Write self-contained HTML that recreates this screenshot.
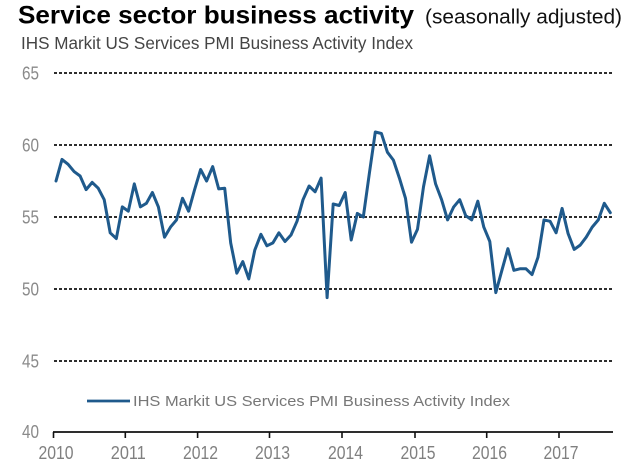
<!DOCTYPE html>
<html>
<head>
<meta charset="utf-8">
<style>
  html, body { margin: 0; padding: 0; background: #ffffff; }
  body { width: 640px; height: 463px; overflow: hidden; }
  svg { display: block; }
  text { font-family: "Liberation Sans", Arial, sans-serif; }
</style>
</head>
<body>
<svg width="640" height="463" viewBox="0 0 640 463" xmlns="http://www.w3.org/2000/svg">
  <rect x="0" y="0" width="640" height="463" fill="#ffffff"/>

  <!-- Title -->
  <text x="18" y="23.5" font-size="25" font-weight="bold" fill="#000" textLength="396" lengthAdjust="spacingAndGlyphs">Service sector business activity</text>
  <text x="425" y="23.5" font-size="20.5" fill="#111" textLength="197" lengthAdjust="spacingAndGlyphs">(seasonally adjusted)</text>

  <!-- Subtitle -->
  <text x="21" y="49" font-size="17.5" fill="#444" textLength="392" lengthAdjust="spacingAndGlyphs">IHS  Markit US Services PMI Business Activity Index</text>

  <!-- Gridlines -->
  <g stroke="#111" stroke-width="1.7" stroke-dasharray="3,2" fill="none">
    <line x1="54" y1="73" x2="614" y2="73"/>
    <line x1="54" y1="145" x2="614" y2="145"/>
    <line x1="54" y1="217" x2="614" y2="217"/>
    <line x1="54" y1="289" x2="614" y2="289"/>
    <line x1="54" y1="361" x2="614" y2="361"/>
  </g>

  <!-- Y axis labels -->
  <g font-size="18" fill="#8a8a8a" text-anchor="end">
    <text x="39" y="79.5" textLength="17" lengthAdjust="spacingAndGlyphs">65</text>
    <text x="39" y="151.5" textLength="17" lengthAdjust="spacingAndGlyphs">60</text>
    <text x="39" y="223.5" textLength="17" lengthAdjust="spacingAndGlyphs">55</text>
    <text x="39" y="295.5" textLength="17" lengthAdjust="spacingAndGlyphs">50</text>
    <text x="39" y="367.5" textLength="17" lengthAdjust="spacingAndGlyphs">45</text>
    <text x="39" y="438" textLength="17" lengthAdjust="spacingAndGlyphs">40</text>
  </g>

  <!-- X axis -->
  <line x1="53" y1="432" x2="613" y2="432" stroke="#111" stroke-width="1.7"/>
  <g stroke="#111" stroke-width="1.6">
    <line x1="53.5" y1="432" x2="53.5" y2="438"/>
    <line x1="125.3" y1="432" x2="125.3" y2="438"/>
    <line x1="197.6" y1="432" x2="197.6" y2="438"/>
    <line x1="269.5" y1="432" x2="269.5" y2="438"/>
    <line x1="342" y1="432" x2="342" y2="438"/>
    <line x1="415" y1="432" x2="415" y2="438"/>
    <line x1="486.7" y1="432" x2="486.7" y2="438"/>
    <line x1="559" y1="432" x2="559" y2="438"/>
  </g>

  <!-- X axis labels -->
  <g font-size="18.5" fill="#808080" text-anchor="middle">
    <text x="56" y="459" textLength="35" lengthAdjust="spacingAndGlyphs">2010</text>
    <text x="128.3" y="459" textLength="35" lengthAdjust="spacingAndGlyphs">2011</text>
    <text x="200.5" y="459" textLength="35" lengthAdjust="spacingAndGlyphs">2012</text>
    <text x="272.5" y="459" textLength="35" lengthAdjust="spacingAndGlyphs">2013</text>
    <text x="345.5" y="459" textLength="35" lengthAdjust="spacingAndGlyphs">2014</text>
    <text x="418" y="459" textLength="35" lengthAdjust="spacingAndGlyphs">2015</text>
    <text x="489.5" y="459" textLength="35" lengthAdjust="spacingAndGlyphs">2016</text>
    <text x="561" y="459" textLength="35" lengthAdjust="spacingAndGlyphs">2017</text>
  </g>

  <!-- Series -->
  <polyline fill="none" stroke="#1f5a8c" stroke-width="3" stroke-linejoin="round" stroke-linecap="round"
    points="56.0,181.0 62.0,159.4 68.1,164.3 74.1,171.6 80.1,176.0 86.1,189.6 92.2,182.4 98.2,188.2 104.2,199.7 110.2,232.8 116.3,238.6 122.3,206.9 128.3,211.2 134.3,183.9 140.4,206.9 146.4,203.3 152.4,192.5 158.4,206.9 164.5,237.2 170.5,227.1 176.5,219.9 182.5,198.3 188.6,211.2 194.6,189.6 200.6,169.5 206.6,181.0 212.7,166.6 218.7,188.9 224.7,188.2 230.7,242.9 236.8,273.2 242.8,261.6 248.8,278.9 254.8,250.1 260.9,234.3 266.9,245.8 272.9,242.9 278.9,232.8 285.0,241.5 291.0,235.0 297.0,221.3 303.0,199.7 309.1,186.0 315.1,191.8 321.1,178.1 327.1,297.6 333.2,204.0 339.2,205.5 345.2,192.5 351.2,240.0 357.3,213.4 363.3,217.0 369.3,173.8 375.3,132.0 381.4,133.5 387.4,152.2 393.4,160.1 399.4,178.1 405.5,198.3 411.5,242.2 417.5,229.2 423.5,186.8 429.6,155.8 435.6,183.9 441.6,199.7 447.6,219.9 453.7,206.9 459.7,199.7 465.7,215.6 471.7,219.9 477.8,201.2 483.8,227.1 489.8,241.5 495.8,292.6 501.9,270.3 507.9,248.7 513.9,270.3 519.9,268.8 526.0,268.8 532.0,274.6 538.0,257.3 544.0,219.9 550.1,221.3 556.1,232.8 562.1,208.4 568.1,233.6 574.2,249.4 580.2,245.1 586.2,237.2 592.2,227.1 598.3,219.9 604.3,203.3 610.3,212.7"/>

  <!-- Legend -->
  <line x1="87" y1="401" x2="130" y2="401" stroke="#1f5a8c" stroke-width="2.8"/>
  <text x="133" y="406" font-size="14.5" fill="#777" textLength="377" lengthAdjust="spacingAndGlyphs">IHS Markit US Services PMI Business Activity Index</text>
</svg>
</body>
</html>
